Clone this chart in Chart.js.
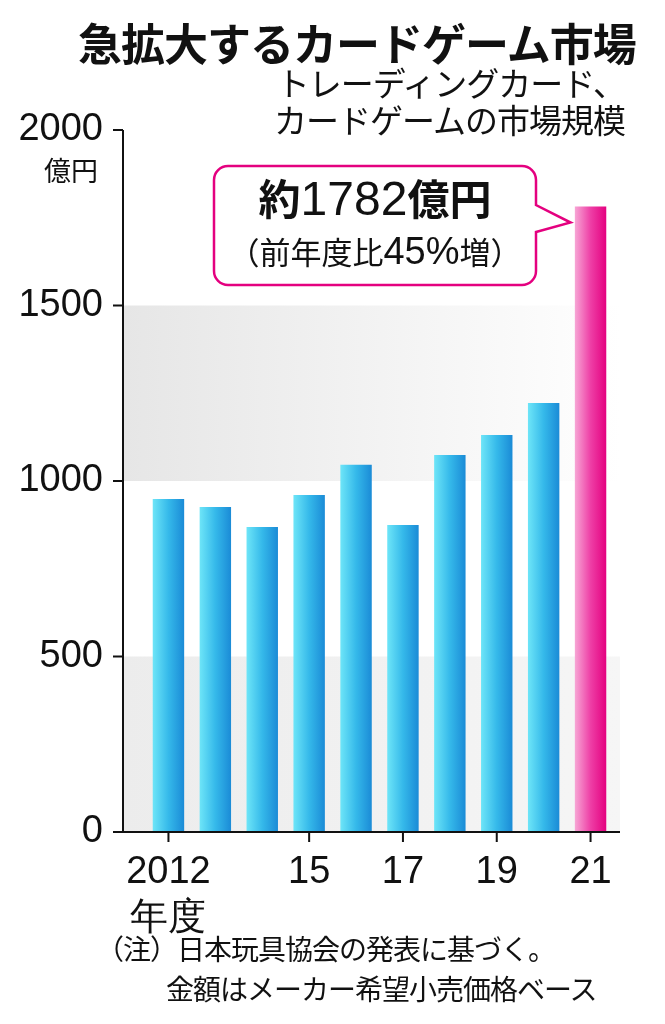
<!DOCTYPE html>
<html><head><meta charset="utf-8">
<script src="https://cdn.jsdelivr.net/npm/chart.js@4"></script>
<style>
body{margin:0;background:#fff;font-family:"Noto Sans CJK JP",sans-serif;}
#wrap{position:relative;width:665px;height:1024px;}
.t{position:absolute;white-space:nowrap;color:#111;}
</style></head><body>
<div id="wrap">
<canvas id="c" width="665" height="1024"></canvas>
<div class="t" style="left:78px;top:10px;font-size:44px;font-weight:bold;letter-spacing:-1px">急拡大するカードゲーム市場</div>
<div class="t" style="right:40px;top:64px;font-size:33px;line-height:37px;text-align:right;letter-spacing:-1px">トレーディングカード、<br>カードゲームの市場規模</div>
<div class="t" style="left:44px;top:150px;font-size:27px">億円</div>
<div class="t" style="left:222px;top:172px;width:306px;text-align:center;font-size:42px;font-weight:bold;line-height:50px">約<span style="font-family:'Liberation Sans';font-weight:normal;font-size:48px">1782</span>億円</div>
<div class="t" style="left:222px;top:228px;width:306px;text-align:center;font-size:31px">（前年度比<span style="font-family:'Liberation Sans';font-size:38px">45%</span>増）</div>
<div class="t" style="left:96px;top:928px;font-size:28px;line-height:40px;letter-spacing:-1px">（注）日本玩具協会の発表に基づく。</div>
<div class="t" style="left:166px;top:968px;font-size:28px;line-height:40px;letter-spacing:-1px">金額はメーカー希望小売価格ベース</div>
</div>
<script>
const categories = [['2012', '年度'], '', '', '15', '', '17', '', '19', '', '21'];
const values = [949, 926, 869, 960, 1046, 875, 1074, 1131, 1222, 1782];
const yTicks = [0, 500, 1000, 1500, 2000];
const labeled = [0, 3, 5, 7, 9];

const AXIS_X = 123, AXIS_RIGHT = 620;
const ctx = document.getElementById('c').getContext('2d');

// background bands, axis lines and the callout box
const bands = {
  id: 'bands',
  beforeDraw(chart) {
    const { ctx, chartArea: a, scales: { y } } = chart;
    [[0, 500], [1000, 1500]].forEach(([lo, hi]) => {
      const g = ctx.createLinearGradient(AXIS_X, 0, AXIS_RIGHT, 0);
      g.addColorStop(0, lo === 0 ? '#ececec' : '#e6e6e6');
      g.addColorStop(1, lo === 0 ? '#f6f6f6' : '#ffffff');
      ctx.fillStyle = g;
      ctx.fillRect(AXIS_X, y.getPixelForValue(hi), AXIS_RIGHT - AXIS_X, y.getPixelForValue(lo) - y.getPixelForValue(hi));
    });
  },
  afterDraw(chart) {
    const { ctx, scales: { x, y } } = chart;
    ctx.save();
    ctx.strokeStyle = '#111';
    ctx.lineWidth = 2;
    ctx.beginPath();
    const y0p = y.getPixelForValue(0);
    ctx.moveTo(AXIS_X, y.getPixelForValue(2000));
    ctx.lineTo(AXIS_X, y0p);
    ctx.lineTo(AXIS_RIGHT, y0p);
    yTicks.forEach(v => { const p = y.getPixelForValue(v); ctx.moveTo(AXIS_X - 10, p); ctx.lineTo(AXIS_X, p); });
    labeled.forEach(i => { const p = x.getPixelForValue(i); ctx.moveTo(p, y0p); ctx.lineTo(p, y0p + 10); });
    ctx.stroke();

    const x0 = 214, yy0 = 166, x1 = 536, y1 = 285, r = 14;
    const tipX = x.getPixelForValue(9) - 20, tipY = y.getPixelForValue(1782) + 16;
    ctx.beginPath();
    ctx.moveTo(x0 + r, yy0);
    ctx.lineTo(x1 - r, yy0);
    ctx.arcTo(x1, yy0, x1, yy0 + r, r);
    ctx.lineTo(x1, 205);
    ctx.lineTo(tipX, tipY);
    ctx.lineTo(x1, 232);
    ctx.lineTo(x1, y1 - r);
    ctx.arcTo(x1, y1, x1 - r, y1, r);
    ctx.lineTo(x0 + r, y1);
    ctx.arcTo(x0, y1, x0, y1 - r, r);
    ctx.lineTo(x0, yy0 + r);
    ctx.arcTo(x0, yy0, x0 + r, yy0, r);
    ctx.closePath();
    ctx.fillStyle = '#fff';
    ctx.fill();
    ctx.strokeStyle = '#e4007f';
    ctx.lineWidth = 2.5;
    ctx.stroke();
    ctx.restore();
  }
};

function barColor(c) {
  const chart = c.chart;
  if (!chart.chartArea) return '#2aa8e0';
  const x = chart.scales.x.getPixelForValue(c.dataIndex);
  const g = chart.ctx.createLinearGradient(x - 16, 0, x + 16, 0);
  if (c.dataIndex === values.length - 1) {
    g.addColorStop(0, '#f7a8d6');
    g.addColorStop(0.5, '#ee3fa6');
    g.addColorStop(1, '#e4007f');
  } else {
    g.addColorStop(0, '#6fe6f8');
    g.addColorStop(0.5, '#35b9ea');
    g.addColorStop(1, '#1a8ad6');
  }
  return g;
}

new Chart(ctx, {
  type: 'bar',
  data: {
    labels: categories,
    datasets: [{ data: values, backgroundColor: barColor, barPercentage: 0.67, categoryPercentage: 1 }]
  },
  options: {
    responsive: false,
    animation: false,
    layout: { padding: { top: 130, right: 51, left: 0, bottom: 0 } },
    plugins: { legend: { display: false }, tooltip: { enabled: false } },
    scales: {
      x: {
        afterFit(s) { s.height = 192; },
        border: { display: false },
        grid: { display: false },
        ticks: { color: '#111', font: { size: 38, family: 'Liberation Sans' }, padding: 10, maxRotation: 0, autoSkip: false }
      },
      y: {
        min: 0, max: 2000,
        afterFit(s) { s.width = 145; },
        afterBuildTicks(s) { s.ticks = yTicks.map(v => ({ value: v })); },
        border: { display: false },
        grid: { display: false },
        ticks: { color: '#111', font: { size: 38, family: 'Liberation Sans' }, padding: 34, callback: v => String(v) }
      }
    }
  },
  plugins: [bands]
});
</script>
</body></html>
